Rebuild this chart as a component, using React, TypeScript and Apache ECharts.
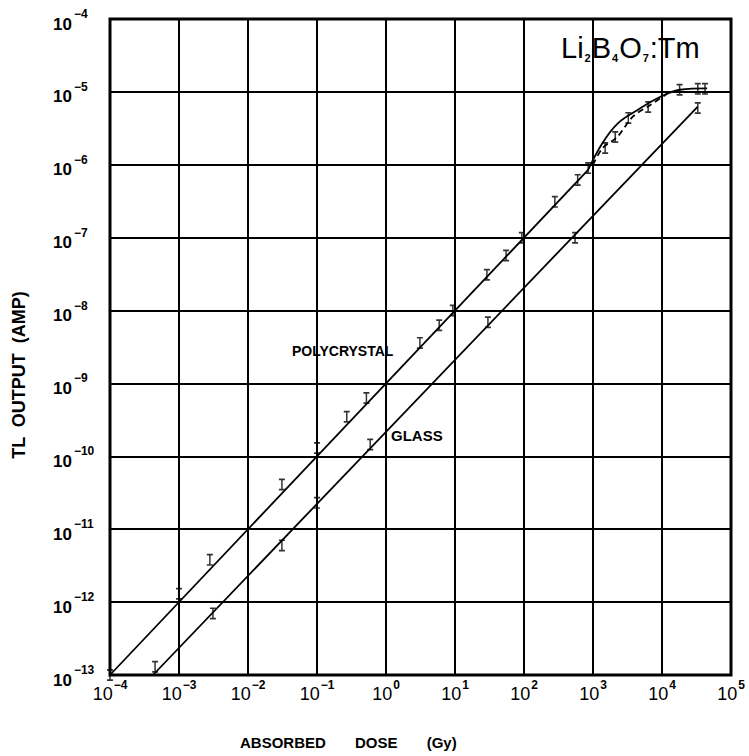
import React, { useEffect, useRef } from "react";
import * as echarts from "echarts";

// ---- data ----
const xTickExponents = [-4, -3, -2, -1, 0, 1, 2, 3, 4, 5];
const yTickExponents = [-13, -12, -11, -10, -9, -8, -7, -6, -5, -4];

// Polycrystal measured points (dose Gy, TL output A)
const polyDose = [1e-4, 1e-3, 2.8e-3, 3.1e-2, 0.1, 0.27, 0.52, 3.1, 5.9, 9.3, 29, 55, 93, 280, 600, 850, 1500, 2100, 3250, 6300, 1.8e4, 3.3e4, 4.2e4];
const polyOutput = [1.0e-13, 1.3e-12, 3.8e-12, 4.1e-11, 1.3e-10, 3.5e-10, 6.3e-10, 3.6e-9, 6.3e-9, 1.0e-8, 3.1e-8, 5.7e-8, 1.0e-7, 3.1e-7, 6.2e-7, 9.0e-7, 1.7e-6, 2.4e-6, 4.4e-6, 6.2e-6, 1.07e-5, 1.1e-5, 1.1e-5];

// Glass measured points
const glassDose = [4.5e-4, 3.1e-3, 3.1e-2, 0.1, 0.59, 30, 550, 3.3e4];
const glassOutput = [1.3e-13, 7.0e-13, 6.0e-12, 2.3e-11, 1.45e-10, 6.9e-9, 1.0e-7, 6.0e-6];

// Drawn curves
const polyLineDose = [1e-4, 850];
const polyLineOutput = [1e-13, 8.5e-7];
const polyCurveDose = [850, 1380, 2290, 4370, 9330, 1.82e4, 4.5e4];
const polyCurveOutput = [8.5e-7, 2.0e-6, 3.7e-6, 5.6e-6, 8.5e-6, 1.07e-5, 1.12e-5];
const dashCurveDose = [1e3, 1380, 2240, 3800, 6760, 1.2e4];
const dashCurveOutput = [1e-6, 1.7e-6, 2.4e-6, 4.6e-6, 6.6e-6, 9.5e-6];
const glassCurveDose = [4.2e-4, 3.3e4];
const glassCurveOutput = [1e-13, 6.3e-6];

const zip = (a: number[], b: number[]) => a.map((v, i) => [v, b[i]]);

const IBEAM = "path://M0,0h8v2h-3v10h3v2h-8v-2h3v-10h-3z";

const supFmt = (v: number) => {
  const e = Math.round(Math.log10(v));
  const s = e < 0 ? "\u2212" + Math.abs(e) : String(e);
  return "{b|10}{s|" + s + "}";
};

export default function App() {
  const ref = useRef<HTMLDivElement>(null);
  useEffect(() => {
    if (!ref.current) return;
    document.body.style.margin = "0";
    const chart = echarts.init(ref.current, undefined, { renderer: "svg" });
    const font = "Liberation Sans";
    const lineStyle = { color: "#000", width: 1.8 };
    chart.setOption({
      animation: false,
      backgroundColor: "#fff",
      grid: {
        left: 110,
        top: 19,
        right: 18,
        bottom: 81,
        show: true,
        borderColor: "#000",
        borderWidth: 3,
        backgroundColor: "transparent",
      },
      xAxis: {
        type: "log",
        logBase: 10,
        min: 1e-4,
        max: 1e5,
        interval: 1,
        axisLine: { show: false },
        axisTick: { show: false },
        splitLine: { show: true, lineStyle: { color: "#000", width: 2 } },
        axisLabel: {
          margin: 2,
          formatter: (v: number) => {
            const e = Math.round(Math.log10(v));
            if (!xTickExponents.includes(e)) return "";
            return supFmt(v);
          },
          rich: {
            b: { fontSize: 18, fontFamily: font, color: "#000", padding: [8, 0, 0, 0] },
            s: { fontSize: 12, fontFamily: font, fontWeight: "bold", color: "#000", padding: [0, 0, 10, 1] },
          },
        },
      },
      yAxis: {
        type: "log",
        logBase: 10,
        min: 1e-13,
        max: 1e-4,
        interval: 1,
        axisLine: { show: false },
        axisTick: { show: false },
        splitLine: { show: true, lineStyle: { color: "#000", width: 2 } },
        axisLabel: {
          margin: 57,
          align: "left",
          formatter: (v: number) => {
            const e = Math.round(Math.log10(v));
            if (!yTickExponents.includes(e)) return "";
            return supFmt(v);
          },
          rich: {
            b: { fontSize: 17, fontFamily: font, fontWeight: "bold", color: "#000", padding: [10, 0, 0, 0] },
            s: { fontSize: 12, fontFamily: font, fontWeight: "bold", color: "#000", padding: [0, 0, 10, 2] },
          },
        },
      },
      series: [
        {
          type: "line",
          data: zip(polyLineDose, polyLineOutput),
          symbol: "none",
          lineStyle,
        },
        {
          type: "line",
          data: zip(polyCurveDose, polyCurveOutput),
          smooth: 0.4,
          symbol: "none",
          lineStyle,
        },
        {
          type: "line",
          data: zip(dashCurveDose, dashCurveOutput),
          smooth: 0.3,
          symbol: "none",
          lineStyle: { color: "#000", width: 1.8, type: [6, 4] },
        },
        {
          type: "line",
          data: zip(glassCurveDose, glassCurveOutput),
          symbol: "none",
          lineStyle,
        },
        {
          type: "scatter",
          data: zip(polyDose, polyOutput),
          symbol: IBEAM,
          symbolSize: [6, 12],
          itemStyle: { color: "#000" },
        },
        {
          type: "scatter",
          data: zip(glassDose, glassOutput),
          symbol: IBEAM,
          symbolSize: [6, 12],
          itemStyle: { color: "#000" },
        },
      ],
      graphic: [
        {
          type: "text",
          left: 561,
          top: 33,
          style: {
            text: "{a|Li}{u|2}{a|B}{u|4}{a|O}{u|7}{a|:Tm}",
            rich: {
              a: { fontSize: 29, fontFamily: font, fill: "#000", lineHeight: 34 },
              u: { fontSize: 11, fontFamily: font, fontWeight: "bold", fill: "#000", padding: [20, 1, 0, 1] },
            },
          },
        },
        {
          type: "text",
          x: 292,
          y: 351,
          style: { text: "POLYCRYSTAL", fontSize: 14, fontWeight: "bold", fontFamily: font, fill: "#000", verticalAlign: "middle" },
        },
        {
          type: "text",
          x: 391,
          y: 435,
          style: { text: "GLASS", fontSize: 15, fontWeight: "bold", fontFamily: font, fill: "#000", verticalAlign: "middle" },
        },
        {
          type: "text",
          x: 19,
          y: 375,
          rotation: Math.PI / 2,
          style: { text: "TL  OUTPUT  (AMP)", fontSize: 18, fontWeight: "bold", fontFamily: font, fill: "#000", align: "center", verticalAlign: "middle" },
        },
        {
          type: "text",
          x: 240,
          y: 742,
          style: { text: "ABSORBED       DOSE       (Gy)", fontSize: 15, fontWeight: "bold", fontFamily: font, fill: "#000", verticalAlign: "middle" },
        },
      ],
    });
    return () => chart.dispose();
  }, []);
  return <div ref={ref} style={{ width: 749, height: 756 }} />;
}
